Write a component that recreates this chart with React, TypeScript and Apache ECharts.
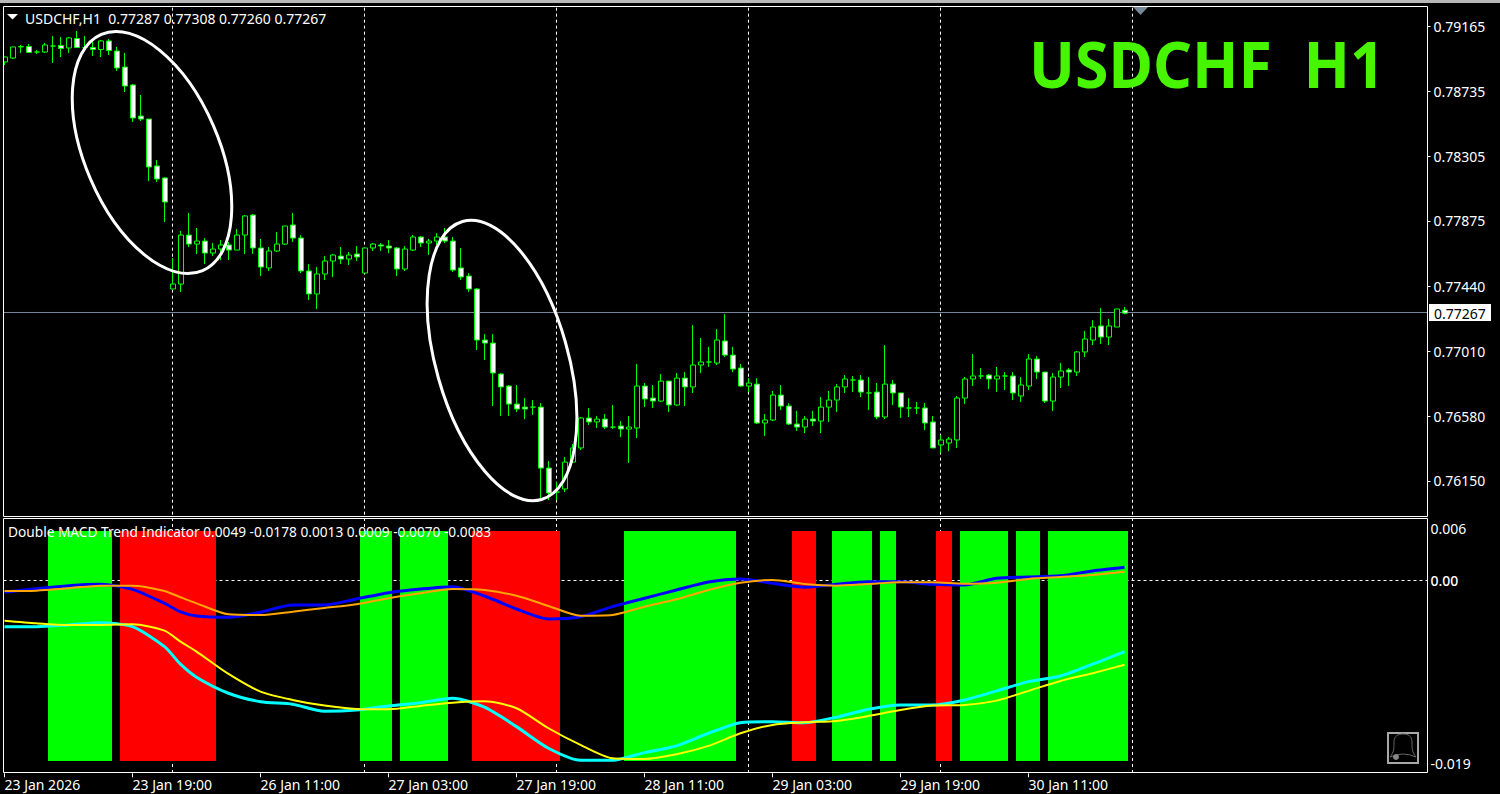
import React, { useEffect, useRef } from "react";
import * as echarts from "echarts";

// Candle prices in points (1e-5)
const opens = [78939,78965,79039,79042,79005,79005,79045,79049,79032,79095,
79035,79035,79022,79079,79012,78905,78786,78579,78559,78247,
78167,77428,77461,77787,77727,77747,77667,77694,77721,77687,
77787,77920,77701,77568,77681,77727,77854,77767,77548,77395,
77528,77614,77647,77627,77661,77534,77701,77721,77714,77701,
77561,77687,77774,77734,77747,77774,77747,77568,77514,77428,
77088,77068,76862,76782,76662,76642,76642,76642,76236,76077,
76097,76276,76370,76569,76543,76562,76509,76516,76496,76503,
76782,76702,76682,76815,76656,76835,76776,76922,76942,76935,
77082,76988,76902,76782,76795,76536,76556,76722,76649,76529,
76509,76562,76549,76642,76689,76776,76822,76822,76736,76742,
76576,76795,76736,76636,76636,76636,76543,76390,76403,76423,
76702,76829,76849,76855,76829,76849,76849,76716,76782,76962,
76875,76682,76842,76889,76875,77009,77088,77182,77108,77175,
77287];
const closes = [78972,79039,79042,79002,79005,79052,79045,79029,79099,79035,
79035,79022,79079,79015,78899,78779,78566,78559,78240,78160,
78007,77461,77787,77727,77747,77667,77694,77721,77687,77787,
77914,77701,77574,77681,77727,77847,77767,77548,77395,77528,
77614,77654,77627,77654,77641,77701,77727,77714,77701,77561,
77694,77774,77734,77747,77774,77747,77554,77508,77428,77088,
77068,76869,76776,76662,76629,76629,76642,76236,76070,76077,
76276,76370,76569,76543,76562,76509,76509,76496,76509,76782,
76696,76682,76815,76656,76835,76776,76922,76942,76942,77088,
76988,76895,76782,76802,76536,76556,76722,76649,76529,76509,
76562,76549,76642,76689,76776,76829,76822,76742,76736,76576,
76795,76736,76642,76636,76636,76536,76370,76423,76429,76702,
76829,76849,76849,76829,76849,76849,76736,76789,76962,76875,
76682,76842,76882,76875,77009,77095,77175,77108,77182,77295,
77267];
const lows = [78919,78959,78999,78999,78992,78999,78932,78972,78999,79035,
79032,78979,78972,78985,78879,78739,78539,78546,78147,78140,
77874,77428,77408,77707,77661,77594,77647,77621,77621,77687,
77661,77661,77514,77548,77674,77721,77741,77534,77355,77295,
77488,77508,77594,77588,77614,77534,77681,77681,77667,77514,
77548,77681,77707,77654,77721,77734,77541,77488,77408,77022,
76955,76649,76583,76583,76609,76562,76589,76037,76023,76023,
76077,76270,76356,76523,76503,76496,76496,76443,76270,76436,
76642,76636,76676,76609,76649,76649,76736,76869,76909,76922,
76975,76875,76776,76742,76529,76449,76549,76622,76523,76483,
76469,76516,76469,76543,76609,76736,76742,76709,76622,76562,
76562,76656,76569,76576,76596,76489,76370,76336,76349,76370,
76662,76782,76829,76762,76742,76756,76689,76676,76756,76829,
76669,76616,76769,76782,76849,76975,77055,77062,77055,77175,
77260];
const highs = [78975,79039,79052,79059,79019,79065,79112,79105,79105,79145,
79112,79072,79085,79092,79039,78999,78792,78719,78559,78286,
78173,77634,77814,77934,77834,77767,77734,77754,77741,77827,
77920,77927,77761,77707,77807,77847,77934,77787,77594,77574,
77647,77661,77707,77674,77714,77701,77734,77734,77754,77707,
77714,77787,77781,77761,77800,77834,77774,77701,77534,77434,
77128,77128,76869,76789,76789,76702,76689,76669,76283,76143,
76310,76396,76576,76636,76583,76596,76656,76549,76583,76929,
76802,76789,76862,76815,76869,76875,77188,77102,77042,77162,
77261,77042,76929,76835,76835,76596,76749,76789,76669,76616,
76583,76616,76709,76749,76795,76855,76849,76855,76842,76802,
77055,76822,76736,76702,76676,76669,76583,76456,76443,76716,
76842,76995,76902,76862,76909,76875,76875,76842,76995,76982,
76875,76869,76935,76902,77015,77148,77221,77301,77228,77295,
77308];

const priceTicks = [0.79165, 0.78735, 0.78305, 0.77875, 0.7744, 0.7701, 0.7658, 0.7615];
const lastPrice = 0.77267;
const timeTickIdx = [0, 16, 32, 48, 64, 80, 96, 112, 128];
const timeTickLabels = ["23 Jan 2026","23 Jan 19:00","26 Jan 11:00","27 Jan 03:00","27 Jan 19:00","28 Jan 11:00","29 Jan 03:00","29 Jan 19:00","30 Jan 11:00"];
const separatorIdx = [21, 45, 69, 93, 117, 141];

// Indicator (values in 1e-4)
const macdIdx = [0,4,8,12,16,20,22,24,28,32,36,40,44,48,52,56,60,64,68,72,76,80,84,88,92,96,100,104,108,112,116,120,124,128,132,136,140];
const blueMacd = [-11.6,-8.1,-5.1,-3.7,-8.7,-22.5,-31,-35,-36.2,-31.3,-24.1,-24.1,-18.2,-12,-8.4,-6.1,-15.3,-28.1,-37.9,-35.7,-25.8,-17.5,-9.4,-1.5,1.5,-2.8,-6.7,-3.7,-1.2,-1.2,-3.7,-4.4,2.2,3.4,4.7,9.4,13];
const orangeSignal = [-10.3,-10,-7.7,-5.1,-5.1,-10.3,-16.5,-22.5,-33.3,-34,-30.7,-27.1,-23.4,-17.5,-12.6,-8.4,-9.4,-15,-25.1,-34.7,-34,-25.8,-18.5,-9.4,-2.2,0.5,-3.4,-5.1,-3.4,-1.8,-1.8,-3.2,-2.2,1.5,3.4,5.4,8.5];
const cyanMacd = [-45.5,-45.5,-43.8,-41.6,-45.5,-65.2,-82.5,-95.3,-111.1,-119.4,-121.9,-128.8,-127.6,-123.6,-120.4,-116,-124.9,-144,-165.3,-177.1,-177.1,-169.6,-163,-150.5,-140.1,-139.1,-140.1,-134.7,-126.9,-122.6,-122.6,-117.7,-108.8,-99.7,-94.1,-82.5,-70];
const yellowSignal = [-39.6,-42.2,-43.8,-43.8,-43.1,-49.4,-60.3,-70.1,-92.1,-109.5,-117.7,-123.3,-126.6,-126.9,-123.6,-120.4,-119,-125.9,-145.6,-162,-175.1,-175.8,-171.2,-163,-150.5,-142.3,-139.7,-138.4,-133.5,-127.6,-123.3,-122.6,-118.4,-108.8,-99,-91.4,-83];

const trendTop = 0.0049;
const trendBottom = -0.0178;
const greenRuns = [[6,13],[45,48],[50,55],[78,91],[104,108],[110,111],[120,125],[127,129],[131,140]];
const redRuns = [[15,26],[59,69],[99,101],[117,118]];

const headerText = "USDCHF,H1  0.77287 0.77308 0.77260 0.77267";
const indicatorText = "Double MACD Trend Indicator 0.0049 -0.0178 0.0013 0.0009 -0.0070 -0.0083";
const watermark = "USDCHF  H1";

const FONT = '"Noto Sans", sans-serif';
const FS = 14;

const bellPath = "M3 25C7 20 7 17 7 10C7 4 11 2 16 2C21 2 25 4 25 10C25 17 25 20 29 25M3 25Q16 19 29 25";
echarts.graphic.registerShape("bell", (echarts.graphic as any).extendPath(bellPath, {}));

function runsToData(runs: number[][], kind: number) {
  const out: number[][] = [];
  for (const [a, b] of runs) for (let i = a; i <= b; i++) out.push([i, trendTop, trendBottom, kind]);
  return out;
}

const xMin = -0.125;
const xMax = 177.875;

function App() {
  const ref = useRef<HTMLDivElement>(null);
  useEffect(() => {
    document.body.style.margin = "0";
    document.body.style.background = "#000";
    document.documentElement.style.overflow = "hidden";
    const chart = echarts.init(ref.current!, undefined, { renderer: "svg" });
    const candles = opens.map((o, i) => [o / 1e5, closes[i] / 1e5, lows[i] / 1e5, highs[i] / 1e5]);
    const cats = Array.from({ length: 178 }, (_, i) => String(i));
    const macdLine = (arr: number[], color: string, width: number, z: number, name: string) => ({
      type: "line", name, xAxisIndex: 2, yAxisIndex: 2, z, symbol: "none", silent: true, clip: false, smooth: 0.25,
      lineStyle: { color, width }, data: arr.map((v, k) => [macdIdx[k], v / 1e4]),
    });
    const mainVLines: any[] = [];
    const indVLines: any[] = [];
    for (const s of separatorIdx) {
      mainVLines.push([s, 0.7929], [s, 0.75917], [null, null]);
      indVLines.push([s, 0.00616], [s, -0.01887], [null, null]);
    }
    const dash = { color: "#fff", width: 1, type: [3, 3] };
    const txt = (text: string, x: number, y: number, fill = "#fff", size = FS) => ({
      type: "text", z: 20, x, y,
      style: { text, fill, font: `${size}px ${FONT}`, align: "left", verticalAlign: "middle" },
    });
    chart.setOption({
      animation: false,
      backgroundColor: "#000",
      grid: [
        { left: 1, top: 7, width: 1424, height: 509 },
        { left: 3.5, top: 7, width: 1424, height: 509 },
        { left: 3.5, top: 519.6, width: 1424, height: 253.7 },
      ],
      xAxis: [
        { type: "category", gridIndex: 0, data: cats, show: false, boundaryGap: true },
        { type: "value", gridIndex: 1, min: xMin, max: xMax, show: false, splitLine: { show: false } },
        {
          type: "value", gridIndex: 2, min: xMin, max: xMax, position: "bottom", scale: true,
          splitLine: { show: false }, axisLine: { show: false, onZero: false },
          axisTick: { show: true, length: 4, lineStyle: { color: "#fff" }, customValues: timeTickIdx },
          axisLabel: {
            color: "#fff", fontFamily: FONT, fontSize: FS, align: "left", margin: 4,
            customValues: timeTickIdx,
            formatter: (v: number) => timeTickLabels[timeTickIdx.indexOf(v)] ?? "",
          },
        },
      ],
      yAxis: [
        { type: "value", gridIndex: 0, min: 0.759171, max: 0.793048, show: false, splitLine: { show: false }, scale: true },
        {
          type: "value", gridIndex: 1, min: 0.759164, max: 0.792944, position: "right", scale: true,
          splitLine: { show: false }, axisLine: { show: false, onZero: false },
          axisTick: { show: true, length: 3, lineStyle: { color: "#fff" }, customValues: priceTicks },
          axisLabel: {
            color: "#fff", fontFamily: FONT, fontSize: FS, margin: 6, padding: [3, 0, 0, 0],
            customValues: priceTicks, formatter: (v: number) => v.toFixed(5),
          },
        },
        {
          type: "value", gridIndex: 2, min: -0.019, max: 0.006, position: "right",
          splitLine: { show: false }, axisLine: { show: false, onZero: false }, axisTick: { show: false },
          axisLabel: {
            color: "#fff", fontFamily: FONT, fontSize: FS, margin: 3,
            customValues: [-0.019, 0, 0.006],
            verticalAlignMinLabel: "bottom", verticalAlignMaxLabel: "top",
            formatter: (v: number) => (v === 0 ? "{z|0.00}" : v === 0.006 ? "{t|0.006}" : "{b|-0.019}"),
            rich: {
              z: { fontFamily: FONT, fontSize: FS, color: "#fff", fontWeight: 500 },
              t: { fontFamily: FONT, fontSize: FS, color: "#fff", padding: [2, 0, 0, 0] },
              b: { fontFamily: FONT, fontSize: FS, color: "#fff", padding: [0, 0, 3, 0] },
            },
          },
        },
      ],
      series: [
        {
          type: "line", name: "separators", xAxisIndex: 1, yAxisIndex: 1, z: 1, symbol: "none", silent: true,
          connectNulls: false, lineStyle: dash, data: mainVLines,
        },
        {
          type: "line", name: "last", xAxisIndex: 1, yAxisIndex: 1, z: 1, symbol: "none", silent: true,
          lineStyle: { color: "#778899", width: 1 }, data: [[xMin, lastPrice], [xMax, lastPrice]],
        },
        {
          type: "line", name: "separators2", xAxisIndex: 2, yAxisIndex: 2, z: 1, symbol: "none", silent: true, clip: false,
          connectNulls: false, lineStyle: dash, data: indVLines,
        },
        {
          type: "line", name: "zero", xAxisIndex: 2, yAxisIndex: 2, z: 1, symbol: "none", silent: true,
          lineStyle: dash, data: [[xMin, 0], [xMax, 0]],
        },
        {
          type: "candlestick", name: "USDCHF", xAxisIndex: 0, yAxisIndex: 0, z: 2, barWidth: 5, silent: true,
          itemStyle: {
            color: "#000", color0: "#fff", borderColor: "#00ff00", borderColor0: "#00ff00",
            borderColorDoji: "#00ff00", borderWidth: 1,
          },
          data: candles,
        },
        {
          type: "custom", name: "trend", xAxisIndex: 2, yAxisIndex: 2, z: 2, silent: true, clip: false,
          encode: { x: 0, y: [1, 2] },
          renderItem: (_: any, api: any) => {
            const a = api.coord([api.value(0), api.value(1)]);
            const b = api.coord([api.value(0), api.value(2)]);
            const top = Math.round(a[1]);
            return {
              type: "rect",
              shape: { x: Math.round(a[0] - 4.5), y: top, width: 8, height: Math.round(b[1]) - top },
              style: { fill: api.value(3) === 1 ? "#00ff00" : "#ff0000" },
            };
          },
          data: [...runsToData(greenRuns, 1), ...runsToData(redRuns, 0)],
        },
        macdLine(blueMacd, "#0000ff", 3, 3, "macd1"),
        macdLine(orangeSignal, "#ffa500", 2, 4, "signal1"),
        macdLine(cyanMacd, "#00ffff", 3, 3, "macd2"),
        macdLine(yellowSignal, "#ffff00", 2, 4, "signal2"),
      ],
      graphic: [
        { type: "rect", z: 15, shape: { x: 0, y: 0, width: 3, height: 794 }, style: { fill: "#000" } },
        { type: "rect", z: 15, shape: { x: 0, y: 0, width: 1500, height: 6 }, style: { fill: "#000" } },
        { type: "rect", z: 16, shape: { x: 0, y: 0, width: 1500, height: 3 }, style: { fill: "#b8b8b8" } },
        { type: "rect", z: 16, shape: { x: 3.5, y: 6.5, width: 1424, height: 510 }, style: { fill: "none", stroke: "#fff", lineWidth: 1 } },
        { type: "rect", z: 16, shape: { x: 3.5, y: 518.5, width: 1424, height: 254 }, style: { fill: "none", stroke: "#fff", lineWidth: 1 } },
        {
          type: "ellipse", z: 10, x: 152, y: 152.5, rotation: 0.405,
          shape: { cx: 0, cy: 0, rx: 67, ry: 128.5 }, style: { fill: "none", stroke: "#fff", lineWidth: 3 },
        },
        {
          type: "ellipse", z: 10, x: 502, y: 360.5, rotation: 0.277,
          shape: { cx: 0, cy: 0, rx: 66, ry: 144.5 }, style: { fill: "none", stroke: "#fff", lineWidth: 3 },
        },
        { type: "polygon", z: 20, shape: { points: [[7, 14], [18, 14], [12.5, 19.5]] }, style: { fill: "#fff" } },
        { type: "polygon", z: 20, shape: { points: [[1133, 7], [1148, 7], [1140.5, 15]] }, style: { fill: "#778899" } },
        txt(headerText, 25, 18),
        txt(indicatorText, 8, 531, "#fff", 13.7),
        {
          type: "text", z: 12, x: 1029, y: 63, scaleX: 0.95, originX: 0,
          style: { text: watermark, fill: "#48f500", font: `bold 64px ${FONT}`, align: "left", verticalAlign: "middle" },
        },
        { type: "rect", z: 20, shape: { x: 1429, y: 304, width: 62, height: 17 }, style: { fill: "#fff" } },
        txt("0.77267", 1434, 313, "#000"),
        { type: "rect", z: 20, shape: { x: 1388, y: 733, width: 30, height: 30 }, style: { fill: "#000", stroke: "#a8a8a8", lineWidth: 2 } },
        { type: "bell", z: 21, x: 1387, y: 732, style: { fill: "none", stroke: "#666", lineWidth: 1 } },
        { type: "circle", z: 21, shape: { cx: 1396, cy: 757, r: 3 }, style: { fill: "#888" } },
      ],
    });
    return () => chart.dispose();
  }, []);
  return <div ref={ref} style={{ width: 1500, height: 794 }} />;
}

export default App;
